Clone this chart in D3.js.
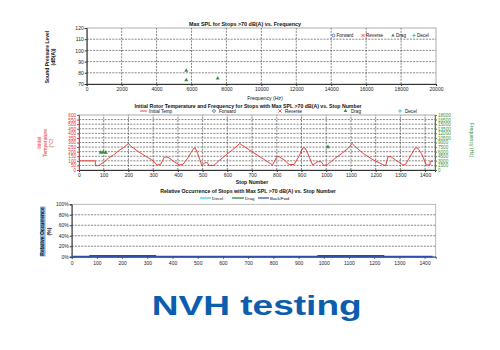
<!DOCTYPE html>
<html><head><meta charset="utf-8">
<script src="https://cdn.jsdelivr.net/npm/d3@7"></script>
<style>
body{margin:0;background:#fff;}
svg{display:block;font-family:"Liberation Sans",Arial,sans-serif;}
</style></head>
<body>
<svg id="c" width="500" height="350"></svg>
<script>
// ---------- DATA ----------
// Top chart: Max SPL vs Frequency
const splTicksX = [0,2000,4000,6000,8000,10000,12000,14000,16000,18000,20000];
const splTicksY = [70,80,90,100,110,120];
const dragFreq = [5700, 5700, 7500];
const dragSpl  = [82, 73.5, 75];
const topLegend = ["Forward","Reverse","Drag","Decel"];

// Middle chart: Initial rotor temperature vs stop number
const stopTicks = [0,100,200,300,400,500,600,700,800,900,1000,1100,1200,1300,1400];
const tempTicks = [0,50,100,150,200,250,300,350,400,450,500,550,600];
const freqTicks = [0,1500,3000,4500,6000,7500,9000,10500,12000,13500,15000,16500,18000];
const tempStops = [0,66,66,80,100,120,140,160,180,200,210,240,270,300,315,330,345,360,380,405,420,440,455,465,470,480,497,510,520,525,545,570,600,630,650,660,700,740,783,800,810,830,850,870,890,905,915,925,945,965,980,990,1005,1030,1060,1090,1105,1115,1150,1190,1240,1250,1262,1285,1310,1320,1340,1360,1370,1385,1405,1420,1420,1432];
const tempVals  = [100,100,45,50,85,130,165,210,245,290,260,200,150,100,55,60,140,140,100,55,60,130,200,240,240,180,50,80,80,50,50,110,175,240,290,270,200,130,55,145,145,110,60,60,150,240,240,180,55,90,90,50,60,115,175,240,290,260,180,110,45,145,145,100,55,60,150,240,240,180,55,55,95,95];
const drag2Stop = [88, 98, 108, 1007];
const drag2Freq = [5700, 5800, 5700, 7500];
const midLegend = ["Initial Temp","Forward","Reverse","Drag","Decel"];

// Bottom chart: Relative occurrence vs stop number
const occTicks = [0,20,40,60,80,100];
const backStops = [0,1432];
const backVals  = [0,0];
const dragOccStops = [[70,335],[975,1240]];
const dragOccVals  = [2,2];
const decelStops = [0,1432];
const decelVals  = [0,0];
const botLegend = ["Decel","Drag","Back/Fwd"];

// ---------- DRAW ----------
const svg = d3.select("#c");
const F = 5;
const fmt = d3.format("d");
const red = "#e53028", green = "#3c8f3c", blue = "#2f4fa8", cyan = "#3cc8e0";
const gridStyle = g => g.attr("stroke","#333").attr("stroke-width",0.6).attr("stroke-dasharray","2,1.2");

function txt(x,y,s,opt={}){
  const t = svg.append("text").attr("x",x).attr("y",y).text(s)
    .attr("font-size",opt.size||F).attr("fill",opt.fill||"#111")
    .attr("text-anchor",opt.anchor||"middle");
  if(opt.bold) t.attr("font-weight","bold");
  if(opt.rot!==undefined) t.attr("transform",`rotate(${opt.rot},${x},${y})`);
  return t;
}

// ===== TOP =====
{
  const x = d3.scaleLinear().domain([0,20000]).range([86.7,436]);
  const y = d3.scaleLinear().domain([70,120]).range([84,28]);
  const g = svg.append("g");
  g.append("rect").attr("x",x(0)).attr("y",y(120)).attr("width",x(20000)-x(0)).attr("height",y(70)-y(120))
    .attr("fill","none").attr("stroke","#999").attr("stroke-width",0.8);
  g.selectAll(".hg").data(splTicksY.slice(1,-1)).join("line")
    .attr("x1",x(0)).attr("x2",x(20000)).attr("y1",d=>y(d)).attr("y2",d=>y(d)).call(gridStyle);
  g.selectAll(".vg").data(splTicksX.slice(1,-1)).join("line")
    .attr("y1",y(70)).attr("y2",y(120)).attr("x1",d=>x(d)).attr("x2",d=>x(d)).call(gridStyle);
  const ax = g.append("g").attr("transform",`translate(0,${y(70)})`)
    .call(d3.axisBottom(x).tickValues(splTicksX).tickFormat(fmt).tickSize(2).tickPadding(1));
  const ay = g.append("g").attr("transform",`translate(${x(0)},0)`)
    .call(d3.axisLeft(y).tickValues(splTicksY).tickFormat(fmt).tickSize(2).tickPadding(1));
  [ax,ay].forEach(a=>{a.selectAll("text").attr("font-size",F).attr("font-family","Liberation Sans, Arial").attr("fill","#222");
    a.select(".domain").attr("stroke","#333"); a.selectAll(".tick line").attr("stroke","#333");});
  g.selectAll(".pt").data(dragFreq).join("path")
    .attr("d",d3.symbol(d3.symbolTriangle,7)())
    .attr("transform",(d,i)=>`translate(${x(d)},${y(dragSpl[i])})`).attr("fill",green);
  txt(245,26,"Max SPL for Stops >70 dB(A) vs. Frequency",{bold:true,size:5.4});
  txt(265,99.5,"Frequency (Hz)",{size:5.2});
  txt(49,57,"Sound Pressure Level",{bold:true,rot:-90,size:5});
  txt(55,57,"(dB(A))",{bold:true,rot:-90,size:5});
  const ly = 37;
  g.append("circle").attr("cx",333.5).attr("cy",ly-1.5).attr("r",1.4).attr("fill","none").attr("stroke",blue).attr("stroke-width",0.7);
  txt(336.5,ly,topLegend[0],{anchor:"start",size:4.6});
  g.append("path").attr("d",d3.symbol(d3.symbolX,8)()).attr("transform",`translate(363,${ly-1.5})`).attr("stroke",red).attr("stroke-width",0.8).attr("fill","none");
  txt(366,ly,topLegend[1],{anchor:"start",size:4.6});
  g.append("path").attr("d",d3.symbol(d3.symbolTriangle,5)()).attr("transform",`translate(393,${ly-1.5})`).attr("fill",green);
  txt(396,ly,topLegend[2],{anchor:"start",size:4.6});
  g.append("path").attr("d",d3.symbol(d3.symbolCross,6)()).attr("transform",`translate(414,${ly-1.5})`).attr("fill",cyan);
  txt(417,ly,topLegend[3],{anchor:"start",size:4.6});
}

// ===== MIDDLE =====
{
  const x = d3.scaleLinear().domain([0,1440]).range([79,435]);
  const yT = d3.scaleLinear().domain([0,600]).range([170,115]);
  const yF = d3.scaleLinear().domain([0,18000]).range([170,115]);
  const g = svg.append("g");
  g.append("rect").attr("x",x(0)).attr("y",yT(600)).attr("width",x(1440)-x(0)).attr("height",yT(0)-yT(600))
    .attr("fill","none").attr("stroke","#999").attr("stroke-width",0.8);
  g.selectAll(".hg").data(tempTicks.slice(1,-1)).join("line")
    .attr("x1",x(0)).attr("x2",x(1440)).attr("y1",d=>yT(d)).attr("y2",d=>yT(d)).call(gridStyle);
  g.selectAll(".vg").data(stopTicks.slice(1)).join("line")
    .attr("y1",yT(0)).attr("y2",yT(600)).attr("x1",d=>x(d)).attr("x2",d=>x(d)).call(gridStyle);
  const ax = g.append("g").attr("transform",`translate(0,${yT(0)})`)
    .call(d3.axisBottom(x).tickValues(stopTicks).tickFormat(fmt).tickSize(2).tickPadding(1.5));
  const ayl = g.append("g").attr("transform",`translate(${x(0)},0)`)
    .call(d3.axisLeft(yT).tickValues(tempTicks).tickFormat(fmt).tickSize(2).tickPadding(1));
  const ayr = g.append("g").attr("transform",`translate(${x(1440)},0)`)
    .call(d3.axisRight(yF).tickValues(freqTicks).tickSize(2).tickPadding(1).tickFormat(fmt));
  ax.selectAll("text").attr("fill","#222");
  ayl.selectAll("text").attr("fill",red); ayl.select(".domain").attr("stroke",red); ayl.selectAll(".tick line").attr("stroke",red);
  ayr.selectAll("text").attr("fill",green); ayr.select(".domain").attr("stroke",green); ayr.selectAll(".tick line").attr("stroke",green);
  ax.select(".domain").attr("stroke","#333"); ax.selectAll(".tick line").attr("stroke","#333");
  [ax,ayl,ayr].forEach(a=>a.selectAll("text").attr("font-size",4.6).attr("font-family","Liberation Sans, Arial"));
  ax.selectAll("text").attr("font-size",F);
  const line = d3.line().x((d,i)=>x(tempStops[i])).y(d=>yT(d));
  g.append("path").datum(tempVals).attr("d",line).attr("fill","none").attr("stroke",red).attr("stroke-width",0.9);
  g.selectAll(".pt").data(drag2Stop).join("path")
    .attr("d",d3.symbol(d3.symbolTriangle,8)())
    .attr("transform",(d,i)=>`translate(${x(d)},${yF(drag2Freq[i])})`).attr("fill",green);
  txt(248,107.5,"Initial Rotor Temperature and Frequency for Stops with Max SPL >70 dB(A) vs. Stop Number",{bold:true,size:5.2});
  txt(252,184,"Stop Number",{bold:true,size:5.2});
  txt(41,143,"Initial",{rot:-90,fill:red,size:5});
  txt(47,143,"Temperature",{rot:-90,fill:red,size:5});
  txt(53,143,"(°C)",{rot:-90,fill:red,size:5});
  txt(470,140,"Frequency (Hz)",{rot:90,fill:green,size:5});
  const ly = 112.5;
  g.append("line").attr("x1",140).attr("x2",147).attr("y1",ly-1.5).attr("y2",ly-1.5).attr("stroke",red).attr("stroke-width",0.9);
  txt(149,ly,midLegend[0],{anchor:"start",size:4.6});
  g.append("circle").attr("cx",214).attr("cy",ly-1.5).attr("r",1.4).attr("fill","none").attr("stroke",blue).attr("stroke-width",0.7);
  txt(219,ly,midLegend[1],{anchor:"start",size:4.6});
  g.append("path").attr("d",d3.symbol(d3.symbolX,8)()).attr("transform",`translate(280,${ly-1.5})`).attr("stroke",red).attr("stroke-width",0.8).attr("fill","none");
  txt(285,ly,midLegend[2],{anchor:"start",size:4.6});
  g.append("path").attr("d",d3.symbol(d3.symbolTriangle,6)()).attr("transform",`translate(345.5,${ly-1.5})`).attr("fill",green);
  txt(351,ly,midLegend[3],{anchor:"start",size:4.6});
  g.append("path").attr("d",d3.symbol(d3.symbolCross,6)()).attr("transform",`translate(400,${ly-1.5})`).attr("fill",cyan);
  txt(405,ly,midLegend[4],{anchor:"start",size:4.6});
}

// ===== BOTTOM =====
{
  const x = d3.scaleLinear().domain([0,1444]).range([71.7,435.7]);
  const y = d3.scaleLinear().domain([0,100]).range([256.7,204.3]);
  const g = svg.append("g");
  g.append("rect").attr("x",x(0)).attr("y",y(100)).attr("width",x(1444)-x(0)).attr("height",y(0)-y(100))
    .attr("fill","none").attr("stroke","#aaa").attr("stroke-width",0.8);
  g.selectAll(".hg").data(occTicks.slice(1,-1)).join("line")
    .attr("x1",x(0)).attr("x2",x(1444)).attr("y1",d=>y(d)).attr("y2",d=>y(d)).call(gridStyle);
  const ax = g.append("g").attr("transform",`translate(0,${y(0)})`)
    .call(d3.axisBottom(x).tickValues(stopTicks).tickFormat(fmt).tickSize(2).tickPadding(3));
  const ay = g.append("g").attr("transform",`translate(${x(0)},0)`)
    .call(d3.axisLeft(y).tickValues(occTicks).tickSize(2).tickPadding(1).tickFormat(d=>d+"%"));
  [ax,ay].forEach(a=>{a.selectAll("text").attr("font-size",F).attr("font-family","Liberation Sans, Arial").attr("fill","#222");
    a.select(".domain").attr("stroke","#333"); a.selectAll(".tick line").attr("stroke","#333");});
  g.append("rect").attr("x",40).attr("y",206.5).attr("width",5.6).attr("height",50).attr("fill","#8fb6dc");
  txt(43.8,231.5,"Relative Occurrence",{bold:true,rot:-90,size:5});
  txt(50.5,231.5,"(%)",{bold:true,rot:-90,size:5});
  g.append("line").attr("x1",x(decelStops[0])).attr("x2",x(decelStops[1])).attr("y1",y(decelVals[0])).attr("y2",y(decelVals[1])).attr("stroke",cyan).attr("stroke-width",1.2);
  dragOccStops.forEach((s,i)=>{
    g.append("line").attr("x1",x(s[0])).attr("x2",x(s[1])).attr("y1",y(dragOccVals[i])).attr("y2",y(dragOccVals[i]))
      .attr("stroke","#1f5a58").attr("stroke-width",1.3);
  });
  g.append("line").attr("x1",x(backStops[0])).attr("x2",x(backStops[1])).attr("y1",y(backVals[0])).attr("y2",y(backVals[1])).attr("stroke",blue).attr("stroke-width",1.8);
  txt(248,193,"Relative Occurrence of Stops with Max SPL >70 dB(A) vs. Stop Number",{bold:true,size:5.2});
  const ly = 199.5;
  g.append("line").attr("x1",200).attr("x2",211).attr("y1",ly-1.5).attr("y2",ly-1.5).attr("stroke",cyan).attr("stroke-width",1.2);
  txt(212,ly,botLegend[0],{anchor:"start",size:4.4});
  g.append("line").attr("x1",232).attr("x2",244).attr("y1",ly-1.5).attr("y2",ly-1.5).attr("stroke","#1f7a3a").attr("stroke-width",1.2);
  txt(245,ly,botLegend[1],{anchor:"start",size:4.4});
  g.append("line").attr("x1",258).attr("x2",269).attr("y1",ly-1.5).attr("y2",ly-1.5).attr("stroke",blue).attr("stroke-width",1.2);
  txt(270,ly,botLegend[2],{anchor:"start",size:4.4});
}

// ===== CAPTION =====
svg.append("text").attr("x",256.7).attr("y",315).attr("text-anchor","middle")
  .attr("font-size",28).attr("font-weight","bold").attr("fill","#0b5dae")
  .attr("textLength",210).attr("lengthAdjust","spacingAndGlyphs")
  .text("NVH testing");
</script>
</body></html>
